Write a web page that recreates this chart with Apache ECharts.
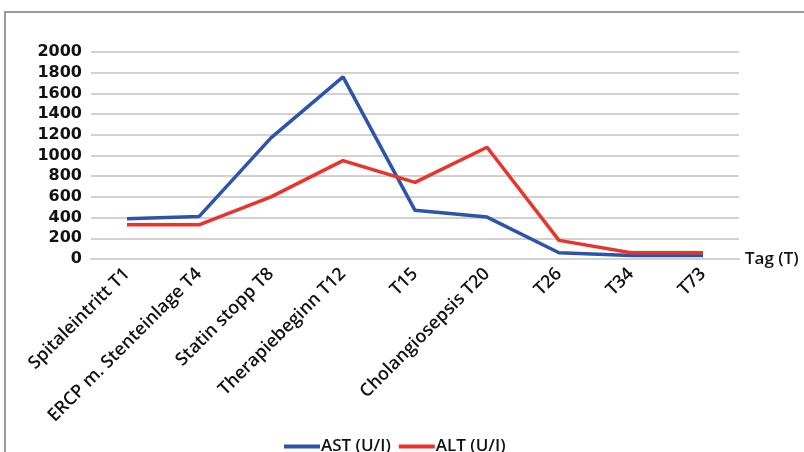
<!DOCTYPE html>
<html>
<head>
<meta charset="utf-8">
<script src="https://cdn.jsdelivr.net/npm/echarts@6/dist/echarts.min.js"></script>
<style>html,body{margin:0;padding:0;background:#fff}#c{width:804px;height:452px}</style>
</head>
<body>
<div id="c"></div>
<script>
const categories = ['Spitaleintritt T1', 'ERCP m. Stenteinlage T4', 'Statin stopp T8', 'Therapiebeginn T12', 'T15', 'Cholangiosepsis T20', 'T26', 'T34', 'T73'];
const astValues = [390, 410, 1170, 1760, 470, 405, 60, 35, 35];
const altValues = [330, 330, 600, 950, 740, 1080, 180, 60, 60];
const seriesNames = ['AST (U/I)', 'ALT (U/I)'];
const xAxisName = 'Tag (T)';

const chart = echarts.init(document.getElementById('c'));
chart.setOption({
  animation: false,
  backgroundColor: '#fff',
  graphic: [{
    type: 'polyline',
    shape: { points: [[5, 452], [5, 12], [804, 12]] },
    style: { stroke: '#7a7a7a', lineWidth: 1.5, fill: null }
  }],
  grid: { left: 91, right: 65, top: 52, bottom: 193, containLabel: false },
  legend: {
    left: 279, top: 433,
    icon: 'rect', itemWidth: 36, itemHeight: 4, itemGap: 8,
    textStyle: { fontFamily: 'Open Sans', fontWeight: 600, fontSize: 17, color: '#111', padding: [0, 0, 0, -4] },
    data: seriesNames
  },
  xAxis: {
    type: 'category',
    data: categories,
    boundaryGap: true,
    name: xAxisName,
    nameLocation: 'end',
    nameGap: 6,
    nameTextStyle: { fontFamily: 'Open Sans', fontWeight: 600, fontSize: 17, color: '#111', verticalAlign: 'middle' },
    axisLine: { lineStyle: { color: '#d4d0cf', width: 2 } },
    axisTick: { show: false },
    axisLabel: { rotate: 45, interval: 0, margin: 12, fontFamily: 'Open Sans', fontWeight: 600, fontSize: 18, color: '#111' }
  },
  yAxis: {
    type: 'value',
    min: 0, max: 2000, interval: 200,
    axisLine: { show: false },
    axisTick: { show: false },
    splitLine: { lineStyle: { color: '#d4d0cf', width: 2 } },
    axisLabel: { margin: 9, fontFamily: 'DejaVu Sans', fontWeight: 'bold', fontSize: 16, color: '#111', formatter: v => String(v) }
  },
  series: [
    { name: seriesNames[0], type: 'line', data: astValues, symbol: 'none', color: '#2b55a8', lineStyle: { width: 3.5, color: '#2b55a8' } },
    { name: seriesNames[1], type: 'line', data: altValues, symbol: 'none', color: '#e8352c', lineStyle: { width: 3.5, color: '#e8352c' } }
  ]
});
</script>
</body>
</html>
